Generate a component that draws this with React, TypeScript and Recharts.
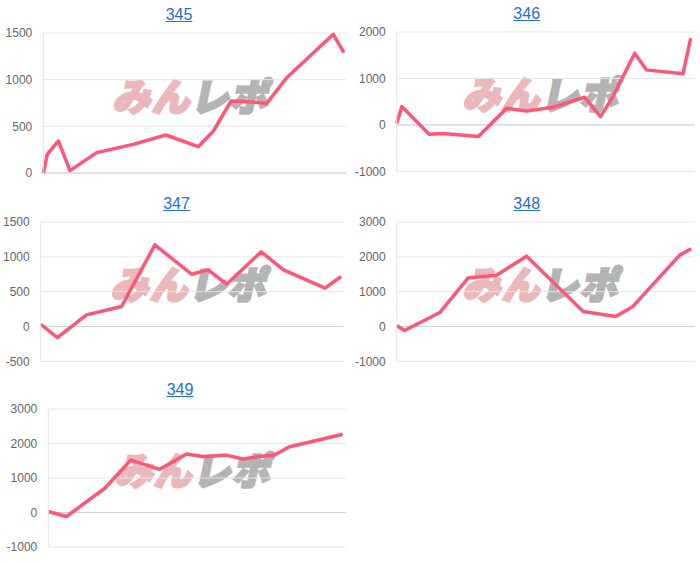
import { LineChart, Line, XAxis, YAxis, CartesianGrid, ReferenceLine } from "recharts"

// machine numbers shown as panel titles
const TITLES = ["345", "346", "347", "348", "349"]

// position along the day (0-100) and coin difference at each turning point
const POS_345 = [0, 1.3, 5.0, 8.8, 17.6, 29.7, 40.5, 51.2, 56.2, 62.0, 67.7, 73.8, 80.4, 95.8, 99.3]
const DIFF_345 = [0, 200, 343, 25, 218, 307, 407, 282, 450, 771, 764, 746, 1021, 1486, 1289]

const POS_346 = [0, 1.7, 10.9, 15.6, 27.4, 36.9, 43.6, 52.5, 63.1, 68.4, 72.6, 79.9, 83.8, 96.1, 98.7]
const DIFF_346 = [30, 395, -201, -187, -251, 359, 302, 380, 596, 180, 610, 1544, 1185, 1099, 1867]

const POS_347 = [0, 5.5, 15.1, 26.7, 37.7, 49.8, 55.3, 61.4, 72.8, 80.2, 93.9, 99.2]
const DIFF_347 = [33, -158, 167, 287, 1172, 751, 813, 608, 1072, 813, 550, 718]

const POS_348 = [0, 2.6, 14.5, 24.0, 33.5, 43.6, 62.6, 73.5, 79.3, 95.0, 98.9]
const DIFF_348 = [29, -115, 404, 1395, 1472, 2020, 433, 289, 577, 2049, 2232]

const POS_349 = [0, 6.1, 19.0, 27.7, 37.4, 46.4, 52.5, 59.8, 65.4, 70.4, 76.0, 81.0, 88.3, 98.9]
const DIFF_349 = [29, -115, 702, 1520, 1251, 1693, 1616, 1664, 1549, 1616, 1664, 1905, 2049, 2270]

const TICKS_345 = [0, 500, 1000, 1500]
const TICKS_346 = [-1000, 0, 1000, 2000]
const TICKS_347 = [-500, 0, 500, 1000, 1500]
const TICKS_348 = [-1000, 0, 1000, 2000, 3000]
const TICKS_349 = [-1000, 0, 1000, 2000, 3000]

const LINE_COLOR = "#ff5577"
const FONT = "'Liberation Sans', Arial, sans-serif"
const PAD = 10

const PANELS = [
  { title: TITLES[0], pos: POS_345, diff: DIFF_345, ticks: TICKS_345, col: 0, plotLeft: 43.3, plotRight: 346, plotTop: 33.3, plotBottom: 173.3, titleX: 179, titleY: 14.5, mark: [194, 95] },
  { title: TITLES[1], pos: POS_346, diff: DIFF_346, ticks: TICKS_346, col: 350, plotLeft: 396.7, plotRight: 694.6, plotTop: 32.3, plotBottom: 171.7, titleX: 526.7, titleY: 13.8, mark: [544, 92.5] },
  { title: TITLES[2], pos: POS_347, diff: DIFF_347, ticks: TICKS_347, col: 0, plotLeft: 40.7, plotRight: 343.5, plotTop: 222.3, plotBottom: 361.7, titleX: 176.5, titleY: 203.7, mark: [192, 283] },
  { title: TITLES[3], pos: POS_348, diff: DIFF_348, ticks: TICKS_348, col: 350, plotLeft: 396.7, plotRight: 694.6, plotTop: 222.3, plotBottom: 361.7, titleX: 526.7, titleY: 203.7, mark: [544, 283] },
  { title: TITLES[4], pos: POS_349, diff: DIFF_349, ticks: TICKS_349, col: 0, plotLeft: 48.3, plotRight: 346, plotTop: 409.3, plotBottom: 547.3, titleX: 180, titleY: 390, mark: [196, 469] },
]

function Watermark({ cx, cy }: { cx: number; cy: number }) {
  return (
    <div
      style={{
        position: "absolute",
        left: cx - 90,
        top: cy - 25,
        width: 180,
        height: 50,
        lineHeight: "50px",
        textAlign: "center",
        fontFamily: "'Noto Sans CJK JP', sans-serif",
        fontWeight: 900,
        fontSize: 38,
        letterSpacing: 1,
        transform: "skewX(-12deg)",
        whiteSpace: "nowrap",
      }}
    >
      <span style={{ color: "#eab7ba", WebkitTextStroke: "2.5px #eab7ba" }}>みん</span>
      <span style={{ color: "#b4b4b4", WebkitTextStroke: "2.5px #b4b4b4" }}>レポ</span>
    </div>
  )
}

function Panel({ p }: { p: (typeof PANELS)[number] }) {
  const data = p.pos.map((pos, i) => ({ pos, diff: p.diff[i] }))
  const ticks = p.ticks
  const plotH = p.plotBottom - p.plotTop
  return (
    <>
      <div
        style={{
          position: "absolute",
          left: p.titleX - 50,
          top: p.titleY - 9.8,
          width: 100,
          height: 20,
          lineHeight: "20px",
          textAlign: "center",
          fontFamily: FONT,
          fontSize: 16,
        }}
      >
        <a href="#" style={{ color: "#1f6fd6", textDecoration: "underline" }}>
          {p.title}
        </a>
      </div>
      <Watermark cx={p.mark[0]} cy={p.mark[1]} />
      <div style={{ position: "absolute", left: p.col, top: p.plotTop - PAD }}>
        <LineChart
          width={p.plotRight - p.col}
          height={plotH + PAD * 2}
          data={data}
          margin={{ top: PAD, right: 0, bottom: PAD, left: 0 }}
        >
          <CartesianGrid horizontal vertical={false} stroke="#e6e6e6" />
          <XAxis type="number" dataKey="pos" domain={[0, 100]} hide />
          <YAxis
            type="number"
            width={p.plotLeft - p.col}
            domain={[ticks[0], ticks[ticks.length - 1]]}
            ticks={ticks}
            interval={0}
            tickLine={false}
            tickSize={6}
            tickMargin={5}
            axisLine={{ stroke: "#e4e4e4" }}
            tick={{ fill: "#666", fontSize: 12, fontFamily: FONT }}
          />
          <ReferenceLine y={0} stroke="#cfcfcf" />
          <Line
            type="linear"
            dataKey="diff"
            stroke={LINE_COLOR}
            strokeWidth={3.5}
            strokeLinejoin="round"
            dot={false}
            isAnimationActive={false}
          />
        </LineChart>
      </div>
    </>
  )
}

export default function App() {
  return (
    <div style={{ position: "absolute", left: 0, top: 0, width: 700, height: 562, background: "#fff", overflow: "hidden" }}>
      {PANELS.map((p) => (
        <Panel key={p.title} p={p} />
      ))}
    </div>
  )
}
